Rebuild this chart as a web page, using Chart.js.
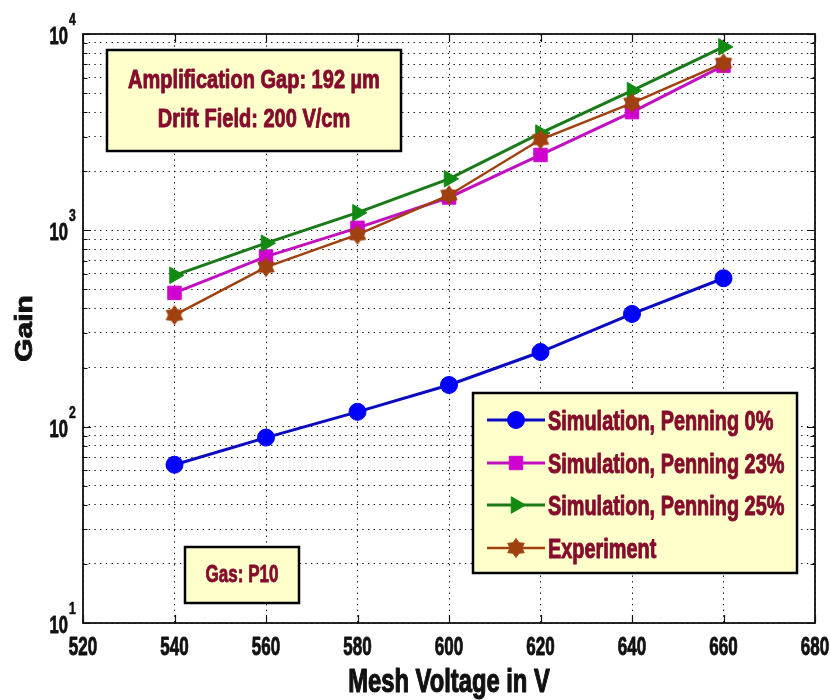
<!DOCTYPE html>
<html>
<head>
<meta charset="utf-8">
<script src="https://cdn.jsdelivr.net/npm/chart.js@4/dist/chart.umd.min.js"></script>
<style>
  html, body { margin: 0; padding: 0; background: #ffffff; }
  #wrap { width: 830px; height: 700px; }
</style>
</head>
<body>
<div id="wrap"><canvas id="gainChart" width="830" height="700"></canvas></div>
<script>
// Mesh voltage (V) and measured / simulated gain
const voltages      = [540, 560, 580, 600, 620, 640, 660];
const gainPenning0  = [64, 88, 119, 163, 240, 375, 570];
const gainPenning23 = [480, 735, 1030, 1470, 2420, 4000, 6900];
const gainPenning25 = [590, 860, 1230, 1830, 3130, 5150, 8600];
const gainExperiment = [370, 650, 950, 1510, 2900, 4450, 7100];

const seriesLabels = [
  'Simulation, Penning 0%',
  'Simulation, Penning 23%',
  'Simulation, Penning 25%',
  'Experiment'
];

// Axis ticks
const xTickValues = [520, 540, 560, 580, 600, 620, 640, 660, 680];
const yDecades    = [10, 100, 1000, 10000];
const yExponents  = ['1', '2', '3', '4'];

const xTitle = 'Mesh Voltage in V';
const yTitle = 'Gain';
const setupLines = ['Amplification Gap: 192 \u00b5m', 'Drift Field: 200 V/cm'];
const gasLabel = 'Gas: P10';

const TEXT_RED = '#850c2c';
const BOX_FILL = '#ffffcc';
const FONT = '"Liberation Sans", Arial, Helvetica, sans-serif';

// Log-scale grid positions: 1..9 x each decade up to the top decade
const yGridValues = [];
yDecades.forEach((d, i) => {
  if (i === yDecades.length - 1) { yGridValues.push(d); return; }
  for (let m = 1; m <= 9; m++) yGridValues.push(d * m);
});

// Filled six-pointed star marker for the experiment series
function makeHexagram(color) {
  const c = document.createElement('canvas');
  c.width = 22; c.height = 22;
  const g = c.getContext('2d');
  g.fillStyle = color;
  g.strokeStyle = color;
  g.lineWidth = 1;
  g.beginPath();
  for (let k = 0; k < 12; k++) {
    const r = k % 2 === 0 ? 9.5 : 6;
    const a = -Math.PI / 2 + k * Math.PI / 6;
    const px = 11 + r * Math.cos(a), py = 11 + r * Math.sin(a);
    if (k === 0) g.moveTo(px, py); else g.lineTo(px, py);
  }
  g.closePath();
  g.fill();
  g.stroke();
  return c;
}

const toPoints = arr => voltages.map((v, i) => ({ x: v, y: arr[i] }));

const datasets = [
  {
    label: seriesLabels[0], data: toPoints(gainPenning0),
    borderColor: '#0a0ac0', backgroundColor: '#0000ff', borderWidth: 3,
    pointStyle: 'circle', pointRadius: 8.5, pointBackgroundColor: '#0000ff',
    pointBorderColor: '#0000ff', pointBorderWidth: 1, order: 3
  },
  {
    label: seriesLabels[1], data: toPoints(gainPenning23),
    borderColor: '#c010c0', backgroundColor: '#d000d0', borderWidth: 3,
    pointStyle: 'rect', pointRadius: 9.5, pointBackgroundColor: '#d000d0',
    pointBorderColor: '#d000d0', pointBorderWidth: 1, order: 2
  },
  {
    label: seriesLabels[2], data: toPoints(gainPenning25),
    borderColor: '#1a7a1a', backgroundColor: '#128a12', borderWidth: 3,
    pointStyle: 'triangle', pointRotation: 90, pointRadius: 9.5,
    pointBackgroundColor: '#128a12', pointBorderColor: '#128a12',
    pointBorderWidth: 1, order: 1
  },
  {
    label: seriesLabels[3], data: toPoints(gainExperiment),
    borderColor: '#a0400e', backgroundColor: '#a0400e', borderWidth: 2.5,
    pointStyle: makeHexagram('#a0400e'), pointRadius: 9,
    pointBackgroundColor: '#a0400e', pointBorderColor: '#a0400e',
    pointBorderWidth: 1, order: 0
  }
];

// Heavy bold text with a horizontal squeeze for the condensed look
function drawText(ctx, text, x, y, size, sx, color, align) {
  ctx.save();
  ctx.font = 'bold ' + size + 'px ' + FONT;
  ctx.fillStyle = color;
  ctx.strokeStyle = color;
  ctx.lineWidth = size / 28;
  ctx.lineJoin = 'round';
  ctx.textBaseline = 'alphabetic';
  ctx.textAlign = 'left';
  const w = ctx.measureText(text).width * sx;
  const x0 = align === 'center' ? x - w / 2 : align === 'right' ? x - w : x;
  ctx.translate(x0, y);
  ctx.scale(sx, 1);
  ctx.fillText(text, 0, 0);
  ctx.strokeText(text, 0, 0);
  ctx.restore();
}

function drawBox(ctx, x1, y1, x2, y2) {
  ctx.save();
  ctx.fillStyle = BOX_FILL;
  ctx.fillRect(x1, y1, x2 - x1, y2 - y1);
  ctx.strokeStyle = '#000';
  ctx.lineWidth = 2.5;
  ctx.strokeRect(x1, y1, x2 - x1, y2 - y1);
  ctx.restore();
}

const decorations = {
  id: 'decorations',
  afterDraw(chart) {
    const ctx = chart.ctx;
    const area = chart.chartArea;
    const xs = chart.scales.x, ys = chart.scales.y;

    // Frame
    ctx.save();
    ctx.strokeStyle = '#111';
    ctx.lineWidth = 1.8;
    ctx.strokeRect(area.left, area.top, area.right - area.left, area.bottom - area.top);

    // Inward tick marks on all four sides
    ctx.lineWidth = 1.2;
    ctx.beginPath();
    xTickValues.forEach(v => {
      const px = Math.round(xs.getPixelForValue(v)) + 0.5;
      ctx.moveTo(px, area.bottom); ctx.lineTo(px, area.bottom - 8);
      ctx.moveTo(px, area.top); ctx.lineTo(px, area.top + 8);
    });
    yGridValues.forEach(v => {
      const py = Math.round(ys.getPixelForValue(v)) + 0.5;
      const len = yDecades.includes(v) ? 8 : 4.5;
      ctx.moveTo(area.left, py); ctx.lineTo(area.left + len, py);
      ctx.moveTo(area.right, py); ctx.lineTo(area.right - len, py);
    });
    ctx.stroke();
    ctx.restore();

    // X tick labels
    xTickValues.forEach(v => {
      drawText(ctx, String(v), xs.getPixelForValue(v), area.bottom + 32, 25, 0.68, '#111', 'center');
    });

    // Y tick labels: 10 with a raised exponent
    yDecades.forEach((v, i) => {
      const py = ys.getPixelForValue(v);
      drawText(ctx, '10', area.left - 15, py + 10, 23, 0.72, '#111', 'right');
      drawText(ctx, yExponents[i], area.left - 14, py - 9, 17, 0.72, '#111', 'left');
    });

    // Axis titles
    drawText(ctx, xTitle, (area.left + area.right) / 2, 692, 33, 0.72, '#111', 'center');
    ctx.save();
    ctx.translate(24, (area.top + area.bottom) / 2);
    ctx.rotate(-Math.PI / 2);
    ctx.scale(1, 0.8);
    ctx.font = 'bold 30px ' + FONT;
    ctx.fillStyle = '#111';
    ctx.strokeStyle = '#111';
    ctx.lineWidth = 1;
    ctx.textAlign = 'center';
    ctx.textBaseline = 'alphabetic';
    ctx.fillText(yTitle, 0, 10.5);
    ctx.strokeText(yTitle, 0, 10.5);
    ctx.restore();

    // Setup annotation box
    drawBox(ctx, 107, 50, 401, 151);
    drawText(ctx, setupLines[0], 254, 88, 26, 0.77, TEXT_RED, 'center');
    drawText(ctx, setupLines[1], 254, 127, 26, 0.77, TEXT_RED, 'center');

    // Gas annotation box
    drawBox(ctx, 185, 547, 299, 603);
    drawText(ctx, gasLabel, 242, 582, 23, 0.74, TEXT_RED, 'center');

    // Legend
    drawBox(ctx, 473, 393, 797, 573);
    const rowY = [420, 463, 505, 548];
    chart.data.datasets.forEach((ds, i) => {
      const y = rowY[i];
      ctx.save();
      ctx.strokeStyle = ds.borderColor;
      ctx.lineWidth = ds.borderWidth;
      ctx.beginPath();
      ctx.moveTo(487, y); ctx.lineTo(545, y);
      ctx.stroke();
      ctx.fillStyle = ds.pointBackgroundColor;
      ctx.strokeStyle = ds.pointBorderColor;
      ctx.lineWidth = ds.pointBorderWidth;
      Chart.helpers.drawPoint(ctx, {
        pointStyle: ds.pointStyle, radius: ds.pointRadius,
        rotation: ds.pointRotation || 0, borderWidth: ds.pointBorderWidth
      }, 516, y);
      ctx.restore();
      drawText(ctx, ds.label, 548, y + 10, 28, 0.71, TEXT_RED, 'left');
    });
  }
};

const gridStyle = { color: '#000000', lineWidth: 1, drawTicks: false };

new Chart(document.getElementById('gainChart'), {
  type: 'scatter',
  data: { datasets: datasets.map(d => Object.assign({ showLine: true, fill: false, tension: 0 }, d)) },
  options: {
    responsive: false,
    animation: false,
    devicePixelRatio: 1,
    layout: { padding: { left: 83, right: 15, top: 34, bottom: 77 } },
    plugins: { legend: { display: false }, tooltip: { enabled: false } },
    scales: {
      x: {
        type: 'linear', min: 520, max: 680,
        afterBuildTicks: s => { s.ticks = xTickValues.map(v => ({ value: v })); },
        ticks: { display: false },
        grid: gridStyle,
        border: { display: false, dash: [1.3, 4.4] }
      },
      y: {
        type: 'logarithmic', min: 10, max: 10000,
        afterBuildTicks: s => { s.ticks = yGridValues.map(v => ({ value: v })); },
        ticks: { display: false },
        grid: gridStyle,
        border: { display: false, dash: [1.3, 4.4] }
      }
    }
  },
  plugins: [decorations]
});
</script>
</body>
</html>
